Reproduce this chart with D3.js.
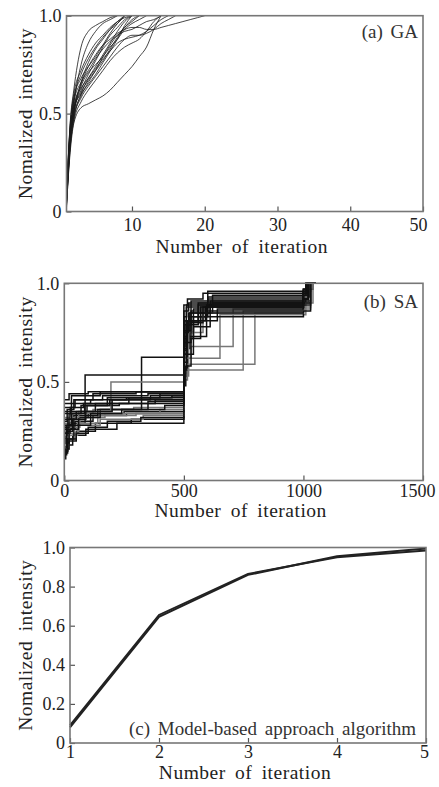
<!DOCTYPE html>
<meta charset="utf-8">
<style>
body { margin: 0; background: #fff; }
svg { font-family: "Liberation Serif", "DejaVu Serif", serif; }
.frame { fill: none; stroke: #777; stroke-width: 1.6; }
.axis path { display: none; }
.axis line { stroke: #555; stroke-width: 1.2; }
.axis text { font-size: 18px; fill: #222; font-family: "Liberation Serif", serif; }
.title { font-size: 19.5px; fill: #222; letter-spacing: 0.5px; word-spacing: 4px; }
.tag { font-size: 19px; fill: #333; word-spacing: 3px; }
</style>
<svg width="439" height="787"></svg>
<script src="https://cdn.jsdelivr.net/npm/d3@7"></script>
<script>

// (a) GA : iteration points shared by all runs
var gaIter = [1, 1.5, 2, 3, 4, 5, 6, 7, 8, 9, 10, 11, 12, 13, 14, 15, 16, 17, 18, 19, 20];
var gaRuns = [
  [0.05, 0.45, 0.62, 0.84, 0.92, 0.95, 0.97, 0.99, 1],
  [0.08, 0.40, 0.55, 0.75, 0.86, 0.92, 0.96, 0.98, 1],
  [0.03, 0.35, 0.50, 0.66, 0.76, 0.83, 0.88, 0.93, 0.97, 1],
  [0.06, 0.38, 0.52, 0.62, 0.70, 0.77, 0.84, 0.90, 0.94, 0.98, 1],
  [0.04, 0.33, 0.47, 0.60, 0.68, 0.74, 0.80, 0.86, 0.92, 0.97, 1],
  [0.10, 0.42, 0.56, 0.66, 0.72, 0.78, 0.83, 0.87, 0.90, 0.94, 0.98, 1],
  [0.05, 0.36, 0.50, 0.64, 0.71, 0.75, 0.79, 0.84, 0.88, 0.93, 0.96, 0.98, 1],
  [0.03, 0.30, 0.45, 0.53, 0.55, 0.57, 0.59, 0.62, 0.66, 0.70, 0.74, 0.79, 0.84, 0.93, 1],
  [0.07, 0.40, 0.54, 0.63, 0.68, 0.73, 0.78, 0.82, 0.86, 0.88, 0.89, 0.90, 0.92, 0.95, 0.98, 1],
  [0.05, 0.37, 0.52, 0.65, 0.74, 0.80, 0.85, 0.88, 0.91, 0.93, 0.94, 0.94, 0.93, 0.93, 0.94, 0.95, 0.96, 0.97, 0.98, 0.99, 1],
  [0.04, 0.34, 0.48, 0.58, 0.64, 0.69, 0.74, 0.79, 0.84, 0.88, 0.90, 0.90, 0.91, 0.93, 0.96, 0.98, 1],
  [0.09, 0.44, 0.60, 0.72, 0.80, 0.86, 0.90, 0.94, 0.97, 0.99, 1],
  [0.06, 0.39, 0.53, 0.60, 0.65, 0.70, 0.76, 0.82, 0.88, 0.95, 1],
  [0.02, 0.32, 0.46, 0.56, 0.62, 0.67, 0.72, 0.77, 0.81, 0.84, 0.86, 0.88, 0.92, 0.97, 1],
  [0.07, 0.41, 0.57, 0.70, 0.78, 0.84, 0.89, 0.93, 0.96, 1],
  [0.05, 0.36, 0.51, 0.61, 0.67, 0.72, 0.77, 0.83, 0.89, 0.94, 0.97, 1],
  [0.08, 0.43, 0.58, 0.68, 0.74, 0.79, 0.85, 0.91, 0.96, 1],
  [0.04, 0.35, 0.49, 0.59, 0.66, 0.72, 0.79, 0.85, 0.90, 0.92, 0.93, 0.95, 0.97, 0.98, 1]
];

// (b) SA : [iteration, value] breakpoints, step after
var saRuns = [
  [[0,0.13],[10,0.18],[35,0.23],[90,0.26],[220,0.29],[500,0.57],[515,0.75],[540,0.87],[600,0.92],[1000,0.96],[1030,1],[1050,1]],
  [[0,0.15],[15,0.21],[50,0.25],[130,0.29],[280,0.31],[500,0.62],[510,0.79],[560,0.89],[1000,0.93],[1025,1],[1050,1]],
  [[0,0.18],[20,0.24],[60,0.28],[150,0.31],[330,0.33],[500,0.53],[520,0.59],[797,0.85],[1000,0.9],[1020,1],[1050,1]],
  [[0,0.2],[12,0.26],[45,0.3],[120,0.33],[260,0.34],[500,0.66],[512,0.81],[590,0.88],[1000,0.91],[1030,1],[1050,1]],
  [[0,0.24],[25,0.29],[87,0.535],[500,0.64],[515,0.81],[570,0.88],[1000,0.94],[1025,1],[1050,1]],
  [[0,0.16],[18,0.23],[55,0.29],[140,0.33],[300,0.34],[500,0.51],[515,0.56],[748,0.86],[1000,0.88],[1030,1],[1050,1]],
  [[0,0.26],[30,0.32],[100,0.34],[250,0.35],[500,0.72],[520,0.83],[600,0.89],[1000,0.9],[1010,0.97],[1040,1],[1050,1]],
  [[0,0.22],[22,0.27],[65,0.32],[170,0.34],[400,0.36],[500,0.62],[530,0.68],[706,0.87],[1000,0.93],[1020,1],[1050,1]],
  [[0,0.29],[35,0.34],[120,0.36],[290,0.37],[500,0.54],[510,0.62],[651,0.84],[1000,0.84],[1010,0.9],[1040,1],[1050,1]],
  [[0,0.14],[14,0.21],[40,0.28],[110,0.34],[240,0.36],[420,0.38],[500,0.76],[530,0.86],[1000,0.92],[1020,1],[1050,1]],
  [[0,0.28],[40,0.33],[140,0.36],[323,0.625],[500,0.73],[525,0.85],[620,0.9],[1000,0.95],[1020,1],[1050,1]],
  [[0,0.31],[28,0.35],[95,0.38],[230,0.39],[500,0.67],[525,0.73],[595,0.89],[1000,0.95],[1015,1],[1050,1]],
  [[0,0.19],[20,0.26],[60,0.32],[150,0.36],[350,0.4],[500,0.6],[510,0.72],[540,0.83],[1000,0.89],[1030,1],[1050,1]],
  [[0,0.32],[60,0.35],[195,0.5],[500,0.59],[520,0.75],[580,0.85],[1000,0.87],[1030,1],[1050,1]],
  [[0,0.34],[25,0.37],[80,0.39],[200,0.41],[500,0.81],[510,0.88],[600,0.93],[1000,0.97],[1010,1],[1050,1]],
  [[0,0.17],[10,0.25],[35,0.31],[90,0.35],[200,0.39],[380,0.41],[500,0.7],[515,0.81],[640,0.87],[1000,0.9],[1030,1],[1050,1]],
  [[0,0.35],[30,0.39],[110,0.41],[260,0.42],[500,0.79],[530,0.91],[1000,0.95],[1020,1],[1050,1]],
  [[0,0.24],[15,0.31],[50,0.35],[130,0.39],[270,0.42],[450,0.43],[500,0.68],[505,0.81],[560,0.9],[1000,0.94],[1015,1],[1050,1]],
  [[0,0.37],[45,0.41],[160,0.43],[350,0.44],[500,0.86],[520,0.9],[600,0.96],[1000,0.97],[1010,1],[1050,1]],
  [[0,0.27],[20,0.34],[70,0.38],[180,0.42],[400,0.44],[500,0.64],[540,0.78],[610,0.9],[1000,0.92],[1020,1],[1050,1]],
  [[0,0.39],[30,0.43],[150,0.45],[500,0.75],[520,0.85],[610,0.91],[1000,0.96],[1020,1],[1050,1]],
  [[0,0.3],[12,0.36],[40,0.41],[120,0.44],[300,0.45],[500,0.89],[515,0.92],[580,0.95],[1000,0.97],[1010,1],[1050,1]],
  [[0,0.41],[20,0.44],[100,0.45],[500,0.83],[512,0.89],[620,0.94],[1000,0.96],[1020,1],[1050,1]],
  [[0,0.21],[8,0.28],[30,0.34],[85,0.38],[190,0.41],[360,0.43],[500,0.48],[508,0.58],[530,0.72],[570,0.85],[1000,0.86],[1030,1],[1050,1]],
  [[0,0.11],[6,0.16],[20,0.2],[50,0.24],[100,0.27],[180,0.3],[320,0.32],[500,0.56],[512,0.7],[530,0.8],[580,0.88],[1000,0.92],[1020,1],[1050,1]]
];
// runs drawn in grey
var saGrey = [2, 5, 7, 8, 13];

// (c) model-based approach
var mbIter = [1, 2, 3, 4, 5];
var mbRuns = [
  [0.08, 0.645, 0.86, 0.955, 0.995],
  [0.09, 0.655, 0.865, 0.95, 0.985]
];

var gaTicksX = [10, 20, 30, 40, 50], gaTicksY = [0, 0.5, 1.0];
var saTicksX = [0, 500, 1000, 1500], saTicksY = [0, 0.5, 1.0];
var mbTicksX = [1, 2, 3, 4, 5], mbTicksY = [0, 0.2, 0.4, 0.6, 0.8, 1.0];

var svg = d3.select("svg");

function fmt(d) { return d === 0 ? "0" : d3.format(".1f")(d); }

function panel(box, xDom, xTicks, yTicks, tag, tagPos, opt) {
  var x = d3.scaleLinear().domain(xDom).range([box.l, box.r]);
  var y = d3.scaleLinear().domain([0, 1]).range([box.b, box.t]);
  var g = svg.append("g");

  var ax = g.append("g").attr("class", "axis")
      .attr("transform", "translate(0," + box.b + ")")
      .call(d3.axisBottom(x).tickValues(xTicks).tickSize(-5).tickPadding(opt.pad).tickFormat(d3.format("d")));
  ax.selectAll(".tick:last-of-type text").attr("dx", opt.lastShift);

  g.append("g").attr("class", "axis")
      .attr("transform", "translate(" + box.l + ",0)")
      .call(d3.axisLeft(y).tickValues(yTicks).tickSize(-5).tickPadding(5).tickFormat(fmt));

  g.append("text").attr("class", "title")
      .attr("x", (box.l + box.r) / 2 - 3).attr("y", box.b + opt.gap)
      .attr("text-anchor", "middle")
      .text("Number of iteration");
  g.append("text").attr("class", "title")
      .attr("transform", "translate(32," + ((box.t + box.b) / 2) + ") rotate(-90)")
      .attr("text-anchor", "middle")
      .text("Nomalized intensity");

  g.append("text").attr("class", "tag")
      .attr("x", tagPos[0]).attr("y", tagPos[1])
      .attr("text-anchor", "end")
      .text(tag);

  return { g: g, x: x, y: y };
}

var boxA = { l: 66.5, r: 423, t: 15.7, b: 211.5 },
    boxB = { l: 64.3, r: 423, t: 283.3, b: 480.5 },
    boxC = { l: 70, r: 426, t: 547.5, b: 743 };

// panel a
var pa = panel(boxA, [1, 50], gaTicksX, gaTicksY, "(a) GA", [418, 38], { pad: 7, lastShift: -5, gap: 41 });
var lineA = d3.line()
    .x(function(d) { return pa.x(d[0]); })
    .y(function(d) { return pa.y(d[1]); })
    .curve(d3.curveMonotoneX);
pa.g.insert("g", ":first-child").selectAll("path")
  .data(gaRuns.map(function(r) {
      return r.map(function(v, i) { return [gaIter[i], v]; });
    }))
  .enter().append("path")
    .attr("fill", "none")
    .attr("stroke", "#1a1a1a")
    .attr("stroke-opacity", 0.9)
    .attr("stroke-width", 0.9)
    .attr("d", lineA);

// panel b
var pb = panel(boxB, [0, 1500], saTicksX, saTicksY, "(b) SA", [418, 308], { pad: 4, lastShift: -6, gap: 36 });
var lineB = d3.line()
    .x(function(d) { return pb.x(d[0]); })
    .y(function(d) { return pb.y(d[1]); })
    .curve(d3.curveStepAfter);
pb.g.insert("g", ":first-child").selectAll("path")
  .data(saRuns)
  .enter().append("path")
    .attr("fill", "none")
    .attr("stroke", function(d, i) { return saGrey.indexOf(i) >= 0 ? "#777" : "#111"; })
    .attr("stroke-width", 1.5)
    .attr("d", lineB);

// panel c
var pc = panel(boxC, [1, 5], mbTicksX, mbTicksY, "(c) Model-based approach algorithm", [416, 735], { pad: 2, lastShift: -2, gap: 36 });
var lineC = d3.line()
    .x(function(d, i) { return pc.x(mbIter[i]); })
    .y(function(d) { return pc.y(d); });
pc.g.insert("g", ":first-child").selectAll("path")
  .data(mbRuns)
  .enter().append("path")
    .attr("fill", "none")
    .attr("stroke", "#222")
    .attr("stroke-width", 2)
    .attr("d", lineC);

// frames on top
[boxA, boxB, boxC].forEach(function(b) {
  svg.append("rect").attr("class", "frame")
    .attr("x", b.l).attr("y", b.t).attr("width", b.r - b.l).attr("height", b.b - b.t);
});

</script>
